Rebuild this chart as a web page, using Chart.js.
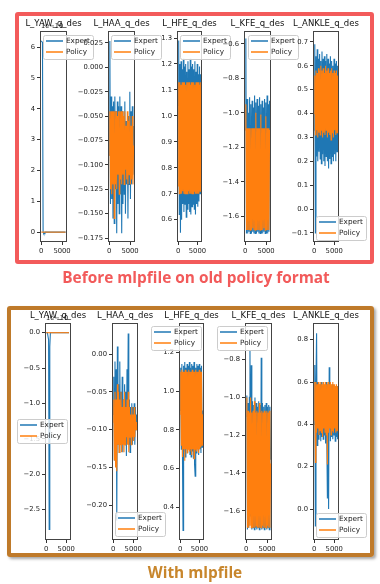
<!DOCTYPE html>
<html>
<head>
<meta charset="utf-8">
<script src="https://cdn.jsdelivr.net/npm/chart.js@4.4.0/dist/chart.umd.min.js"></script>
<style>
  body { margin: 0; width: 380px; height: 584px; background: #fff; position: relative; overflow: hidden; font-family: "DejaVu Sans", sans-serif; }
  .panel { position: absolute; box-sizing: border-box; border-radius: 3px; }
  #before { left: 15px; top: 12px; width: 359px; height: 252px; border: 4px solid #f35b5b; }
  #after { left: 7px; top: 306px; width: 367px; height: 251px; border: 4px solid #bf7a2a; box-shadow: 2px 2px 3px rgba(0,0,0,0.35); }
  canvas { position: absolute; }
  .ttl { position: absolute; font-size: 8.5px; line-height: 1; color: #111; white-space: nowrap; transform: translateX(-50%); }
  .off { position: absolute; font-size: 6.6px; line-height: 1; color: #111; white-space: nowrap; }
  .cap { position: absolute; font-family: "Open Sans", sans-serif; font-weight: bold; font-size: 15.4px; line-height: 1; white-space: nowrap; transform: translateX(-50%); }
</style>
</head>
<body>
<div class="panel" id="before"></div>
<div class="panel" id="after"></div>
<div id="plots"></div>
<div class="cap" style="left:196px;top:270px;color:#f25a5a">Before mlpfile on old policy format</div>
<div class="cap" style="left:195px;top:565px;color:#c8862c">With mlpfile</div>

<script>
// sample index shared by every series
const samples = [0, 150, 300, 450, 600, 750, 900, 1050, 1200, 1350,
  1500, 1650, 1800, 1950, 2100, 2250, 2400, 2550, 2700, 2850,
  3000, 3150, 3300, 3450, 3600, 3750, 3900, 4050, 4200, 4350,
  4500, 4650, 4800, 4950, 5100, 5250, 5400, 5550, 5700, 5850];
const xTicks = [0, 5000];

// ---- before mlpfile (old policy format) ----
const oldYawExpert = [6.2, 6.2, 6.15, 0, -0.05, -0.05, 0, 0, 0, 0,
  0, 0, 0, 0, 0, 0, 0, 0, 0, 0,
  0, 0, 0, 0, 0, 0, 0, 0, 0, 0,
  0, 0, 0, 0, 0, 0, 0, 0, 0, 0];
const oldYawPolicy = [0, 0, 0, 0, 0, 0, 0, 0, 0, 0,
  0, 0, 0, 0, 0, 0, 0, 0, 0, 0,
  0, 0, 0, 0, 0, 0, 0, 0, 0, 0,
  0, 0, 0, 0, 0, 0, 0, 0, 0, 0];
const oldHaaExpert = [-0.09, 0.027, -0.14, -0.03, -0.135, -0.04, -0.155, -0.035, -0.16, -0.03,
  -0.125, -0.045, -0.17, -0.035, -0.14, -0.04, -0.15, -0.03, -0.13, -0.04,
  -0.17, -0.045, -0.14, -0.05, -0.13, -0.035, -0.15, -0.055, -0.12, -0.06,
  -0.155, -0.05, -0.12, -0.025, -0.135, -0.045, -0.12, -0.04, -0.11, -0.06];
const oldHaaPolicy = [-0.09, -0.045, -0.125, -0.045, -0.13, -0.045, -0.12, -0.045, -0.155, -0.045,
  -0.12, -0.045, -0.125, -0.05, -0.11, -0.045, -0.13, -0.045, -0.115, -0.045,
  -0.12, -0.045, -0.11, -0.05, -0.12, -0.045, -0.105, -0.06, -0.115, -0.045,
  -0.12, -0.055, -0.11, -0.05, -0.12, -0.06, -0.115, -0.05, -0.12, -0.08];
const oldHfeExpert = [1.04, 1.29, 0.62, 1.2, 0.55, 1.21, 0.6, 1.18, 0.66, 1.22,
  0.63, 1.19, 0.66, 1.2, 0.61, 1.17, 0.64, 1.21, 0.66, 1.18,
  0.63, 1.22, 0.62, 1.19, 0.65, 1.2, 0.66, 1.18, 0.64, 1.21,
  0.62, 1.17, 0.66, 1.2, 0.65, 1.16, 0.67, 1.19, 0.7, 1.16];
const oldHfePolicy = [0.73, 1.13, 0.7, 1.13, 0.7, 1.12, 0.7, 1.13, 0.71, 1.13,
  0.7, 1.13, 0.7, 1.12, 0.7, 1.13, 0.7, 1.13, 0.71, 1.13,
  0.7, 1.12, 0.7, 1.13, 0.7, 1.13, 0.7, 1.13, 0.71, 1.12,
  0.7, 1.13, 0.7, 1.13, 0.7, 1.13, 0.7, 1.12, 0.71, 1.13];
const oldKfeExpert = [-1.1, -0.57, -1.7, -0.92, -1.7, -1.0, -1.69, -0.91, -1.7, -0.95,
  -1.7, -0.93, -1.69, -0.97, -1.7, -0.9, -1.7, -0.94, -1.7, -0.92,
  -1.69, -0.96, -1.7, -0.91, -1.7, -0.95, -1.7, -0.93, -1.7, -0.97,
  -1.69, -0.92, -1.7, -0.94, -1.7, -0.9, -1.7, -0.95, -1.69, -0.93];
const oldKfePolicy = [-1.1, -0.95, -1.68, -1.09, -1.68, -1.09, -1.68, -1.09, -1.68, -1.09,
  -1.68, -1.09, -1.67, -1.09, -1.68, -1.09, -1.68, -1.0, -1.68, -1.09,
  -1.68, -1.09, -1.68, -1.09, -1.68, -1.01, -1.68, -1.09, -1.68, -1.09,
  -1.67, -1.09, -1.68, -1.02, -1.68, -1.09, -1.68, -1.09, -1.68, -1.1];
const oldAnkleExpert = [0.33, 0.69, -0.1, 0.64, 0.22, 0.67, 0.2, 0.63, 0.24, 0.65,
  0.21, 0.62, 0.19, 0.66, 0.23, 0.63, 0.2, 0.64, 0.18, 0.62,
  0.22, 0.65, 0.2, 0.63, 0.17, 0.61, 0.21, 0.64, 0.19, 0.62,
  0.22, 0.6, 0.2, 0.63, 0.23, 0.61, 0.2, 0.62, 0.24, 0.6];
const oldAnklePolicy = [0.4, 0.56, 0.31, 0.58, 0.33, 0.57, 0.3, 0.59, 0.32, 0.58,
  0.31, 0.6, 0.33, 0.58, 0.3, 0.59, 0.32, 0.57, 0.31, 0.6,
  0.33, 0.58, 0.3, 0.59, 0.32, 0.57, 0.31, 0.58, 0.29, 0.59,
  0.32, 0.57, 0.3, 0.58, 0.33, 0.57, 0.31, 0.58, 0.32, 0.56];

// ---- with mlpfile ----
const newYawExpert = [0, 0, 0, 0, -0.1, -2.78, -0.2, 0, 0, 0,
  0, 0, 0, 0, 0, 0, 0, 0, 0, 0,
  0, 0, 0, 0, 0, 0, 0, 0, 0, 0,
  0, 0, 0, 0, 0, 0, 0, 0, 0, 0];
const newYawPolicy = [0, 0, 0, 0, 0, 0, 0, 0, 0, 0,
  0, 0, 0, 0, 0, 0, 0, 0, 0, 0,
  0, 0, 0, 0, 0, 0, 0, 0, 0, 0,
  0, 0, 0, 0, 0, 0, 0, 0, 0, 0];
const newHaaExpert = [-0.08, -0.03, -0.14, -0.01, -0.13, -0.02, -0.22, 0.01, -0.12, -0.04,
  -0.13, -0.01, -0.11, -0.05, -0.12, -0.03, -0.13, -0.06, -0.11, -0.04,
  -0.12, -0.05, -0.135, -0.02, -0.11, 0.027, -0.12, -0.06, -0.13, -0.07,
  -0.115, -0.065, -0.12, -0.07, -0.11, -0.065, -0.12, -0.07, -0.1, -0.08];
const newHaaPolicy = [-0.09, -0.06, -0.14, -0.05, -0.15, -0.06, -0.155, -0.04, -0.12, -0.05,
  -0.13, -0.06, -0.12, -0.05, -0.13, -0.07, -0.12, -0.06, -0.13, -0.05,
  -0.12, -0.07, -0.11, -0.06, -0.12, -0.05, -0.13, -0.07, -0.11, -0.08,
  -0.12, -0.07, -0.11, -0.08, -0.115, -0.07, -0.11, -0.08, -0.1, -0.09];
const newHfeExpert = [0.9, 1.12, 0.7, 1.14, 0.68, 0.28, 1.13, 0.69, 1.15, 0.66,
  1.12, 0.7, 1.14, 0.68, 1.13, 0.7, 1.15, 0.67, 1.12, 0.66,
  1.14, 0.69, 1.13, 0.65, 1.15, 0.62, 0.56, 1.12, 0.68, 1.14,
  0.7, 1.13, 0.67, 1.14, 0.7, 1.12, 0.68, 1.13, 0.71, 0.9];
const newHfePolicy = [0.88, 1.1, 0.72, 1.11, 0.66, 1.1, 0.7, 1.1, 0.64, 1.11,
  0.7, 1.1, 0.68, 1.1, 0.7, 1.11, 0.69, 1.1, 0.7, 1.1,
  0.67, 1.11, 0.7, 1.1, 0.65, 1.1, 0.7, 1.11, 0.69, 1.1,
  0.7, 1.1, 0.68, 1.11, 0.7, 1.1, 0.71, 1.1, 0.72, 0.88];
const newKfeExpert = [-1.1, -0.99, -1.7, -1.03, -1.69, -1.0, -0.75, -1.63, -0.83, -1.7,
  -1.02, -1.69, -1.04, -1.7, -1.0, -1.69, -1.03, -1.7, -1.05, -1.69,
  -1.02, -1.7, -1.04, -1.69, -0.79, -1.7, -1.03, -1.69, -1.05, -1.7,
  -1.04, -1.69, -1.03, -1.7, -1.05, -1.69, -1.04, -1.7, -1.05, -1.33];
const newKfePolicy = [-1.1, -1.0, -1.69, -1.07, -1.69, -1.08, -1.68, -1.0, -1.69, -1.08,
  -1.69, -1.07, -1.69, -1.02, -1.69, -1.08, -1.68, -1.07, -1.69, -1.08,
  -1.69, -1.03, -1.69, -1.08, -1.69, -1.07, -1.68, -1.08, -1.69, -1.07,
  -1.69, -1.08, -1.69, -1.07, -1.68, -1.08, -1.69, -1.07, -1.69, -1.35];
const newAnkleExpert = [0.4, 0.68, -0.08, 0.6, 0.83, 0.3, 0.6, 0.33, 0.58, 0.35,
  0.59, 0.32, 0.6, 0.34, 0.58, 0.33, 0.59, 0.35, 0.58, 0.31,
  0.6, 0.34, 0.05, 0.59, 0.0, 0.67, 0.6, 0.32, 0.58, 0.34,
  0.59, 0.33, 0.58, 0.35, 0.57, 0.32, 0.58, 0.34, 0.58, 0.33];
const newAnklePolicy = [0.42, 0.6, 0.22, 0.6, 0.36, 0.59, 0.38, 0.6, 0.35, 0.59,
  0.37, 0.6, 0.36, 0.59, 0.34, 0.6, 0.38, 0.59, 0.36, 0.6,
  0.35, 0.59, 0.21, 0.6, 0.36, 0.59, 0.38, 0.6, 0.35, 0.59,
  0.37, 0.6, 0.36, 0.59, 0.38, 0.58, 0.36, 0.59, 0.37, 0.58];

// y tick values per subplot
const yawOldTicks = [0, 1, 2, 3, 4, 5, 6];
const haaOldTicks = [-0.175, -0.15, -0.125, -0.1, -0.075, -0.05, -0.025, 0, 0.025];
const hfeOldTicks = [0.6, 0.7, 0.8, 0.9, 1.0, 1.1, 1.2, 1.3];
const kfeOldTicks = [-1.6, -1.4, -1.2, -1.0, -0.8, -0.6];
const ankleOldTicks = [-0.1, 0, 0.1, 0.2, 0.3, 0.4, 0.5, 0.6, 0.7];
const yawNewTicks = [-2.5, -2.0, -1.5, -1.0, -0.5, 0];
const haaNewTicks = [-0.2, -0.15, -0.1, -0.05, 0];
const hfeNewTicks = [0.4, 0.6, 0.8, 1.0, 1.2];
const kfeNewTicks = [-1.6, -1.4, -1.2, -1.0, -0.8];
const ankleNewTicks = [0, 0.2, 0.4, 0.6, 0.8];

const BLUE = '#1f77b4';
const ORANGE = '#ff7f0e';

// subplot layout: axes box on the page, y limits, legend box corner
const plots = [
  { title: 'L_YAW_q_des', box: [40, 31, 67, 242], y: [-0.32, 6.52], ticks: yawOldTicks, dec: 0, exp: oldYawExpert, pol: oldYawPolicy, leg: [43, 35], off: '1e\u221210' },
  { title: 'L_HAA_q_des', box: [108, 31, 135, 242], y: [-0.1791, 0.0373], ticks: haaOldTicks, dec: 3, exp: oldHaaExpert, pol: oldHaaPolicy, leg: [111, 35] },
  { title: 'L_HFE_q_des', box: [177, 31, 202, 242], y: [0.514, 1.327], ticks: hfeOldTicks, dec: 1, exp: oldHfeExpert, pol: oldHfePolicy, leg: [180, 35] },
  { title: 'L_KFE_q_des', box: [244, 31, 271, 242], y: [-1.749, -0.526], ticks: kfeOldTicks, dec: 1, exp: oldKfeExpert, pol: oldKfePolicy, leg: [248, 35] },
  { title: 'L_ANKLE_q_des', box: [313, 31, 339, 242], y: [-0.138, 0.746], ticks: ankleOldTicks, dec: 1, exp: oldAnkleExpert, pol: oldAnklePolicy, leg: [316, 216] },
  { title: 'L_YAW_q_des', box: [45, 323, 71, 540], y: [-2.928, 0.137], ticks: yawNewTicks, dec: 1, exp: newYawExpert, pol: newYawPolicy, leg: [17, 419], off: '1e\u221210' },
  { title: 'L_HAA_q_des', box: [112, 323, 138, 540], y: [-0.2459, 0.041], ticks: haaNewTicks, dec: 2, exp: newHaaExpert, pol: newHaaPolicy, leg: [115, 512] },
  { title: 'L_HFE_q_des', box: [179, 323, 204, 540], y: [0.231, 1.351], ticks: hfeNewTicks, dec: 1, exp: newHfeExpert, pol: newHfePolicy, leg: [151, 326] },
  { title: 'L_KFE_q_des', box: [245, 323, 272, 540], y: [-1.755, -0.606], ticks: kfeNewTicks, dec: 1, exp: newKfeExpert, pol: newKfePolicy, leg: [217, 326] },
  { title: 'L_ANKLE_q_des', box: [313, 323, 339, 540], y: [-0.1465, 0.879], ticks: ankleNewTicks, dec: 1, exp: newAnkleExpert, pol: newAnklePolicy, leg: [316, 513] }
];

const PAD_L = 45, PAD_T = 10, PAD_R = 40, PAD_B = 18;
const TICK_FONT = { family: 'DejaVu Sans', size: 6.8 };

function fmt(v, dec) {
  return v.toFixed(dec).replace('-', '\u2212');
}

// axes frame drawn over the lines, like matplotlib spines
const framePlugin = {
  id: 'frame',
  afterDatasetsDraw(chart) {
    const a = chart.chartArea, c = chart.ctx;
    c.save();
    c.strokeStyle = '#444';
    c.lineWidth = 1;
    c.strokeRect(Math.round(a.left) + 0.5, Math.round(a.top) + 0.5, Math.round(a.right - a.left) - 1, Math.round(a.bottom - a.top) - 1);
    c.restore();
  }
};

// matplotlib style legend box
const boxLegend = {
  id: 'boxLegend',
  afterDraw(chart, args, opts) {
    const c = chart.ctx;
    const x = opts.x, y = opts.y, w = 50, h = 24;
    c.save();
    c.fillStyle = 'rgba(255,255,255,0.8)';
    c.strokeStyle = '#cccccc';
    c.lineWidth = 1;
    c.beginPath();
    c.roundRect(x + 0.5, y + 0.5, w, h, 2);
    c.fill();
    c.stroke();
    chart.data.datasets.forEach((ds, i) => {
      const ly = y + 6 + i * 11;
      c.strokeStyle = ds.borderColor;
      c.lineWidth = 1.5;
      c.beginPath();
      c.moveTo(x + 3, ly);
      c.lineTo(x + 20, ly);
      c.stroke();
      c.fillStyle = '#222';
      c.font = '7.3px "DejaVu Sans"';
      c.textBaseline = 'middle';
      c.fillText(ds.label, x + 23, ly + 0.5);
    });
    c.restore();
  }
};

const holder = document.getElementById('plots');

plots.forEach(p => {
  const [l, t, r, b] = p.box;
  const left = l - PAD_L, top = t - PAD_T;
  const cv = document.createElement('canvas');
  cv.width = (r - l) + PAD_L + PAD_R;
  cv.height = (b - t) + PAD_T + PAD_B;
  cv.style.left = left + 'px';
  cv.style.top = top + 'px';
  holder.appendChild(cv);

  const ttl = document.createElement('div');
  ttl.className = 'ttl';
  ttl.textContent = p.title;
  ttl.style.left = ((l + r) / 2) + 'px';
  ttl.style.top = (t - 12) + 'px';
  holder.appendChild(ttl);

  if (p.off) {
    const o = document.createElement('div');
    o.className = 'off';
    o.textContent = p.off;
    o.style.left = (l + 1) + 'px';
    o.style.top = (t - 8) + 'px';
    holder.appendChild(o);
  }

  new Chart(cv, {
    type: 'line',
    data: {
      datasets: [
        { label: 'Expert', data: samples.map((s, i) => ({ x: s, y: p.exp[i] })), borderColor: BLUE, borderWidth: 1.1, pointRadius: 0, tension: 0, order: 2 },
        { label: 'Policy', data: samples.map((s, i) => ({ x: s, y: p.pol[i] })), borderColor: ORANGE, borderWidth: 1.1, pointRadius: 0, tension: 0, order: 1 }
      ]
    },
    options: {
      responsive: false,
      animation: false,
      events: [],
      layout: { padding: { top: PAD_T, right: PAD_R, bottom: 0, left: 0 } },
      plugins: {
        legend: { display: false },
        tooltip: { enabled: false },
        boxLegend: { x: p.leg[0] - left, y: p.leg[1] - top }
      },
      scales: {
        x: {
          type: 'linear', min: -295, max: 6195,
          afterBuildTicks: s => { s.ticks = xTicks.map(v => ({ value: v })); },
          afterFit: s => { s.height = PAD_B; },
          grid: { drawOnChartArea: false, tickLength: 3, color: '#333' },
          border: { display: false },
          ticks: { autoSkip: false, maxRotation: 0, padding: 2, color: '#222', font: TICK_FONT, callback: v => String(v) }
        },
        y: {
          type: 'linear', min: p.y[0], max: p.y[1],
          afterBuildTicks: s => { s.ticks = p.ticks.map(v => ({ value: v })); },
          afterFit: s => { s.width = PAD_L; },
          grid: { drawOnChartArea: false, tickLength: 3, color: '#333' },
          border: { display: false },
          ticks: { autoSkip: false, padding: 2, color: '#222', font: TICK_FONT, callback: v => fmt(v, p.dec) }
        }
      }
    },
    plugins: [framePlugin, boxLegend]
  });
});
</script>
</body>
</html>
